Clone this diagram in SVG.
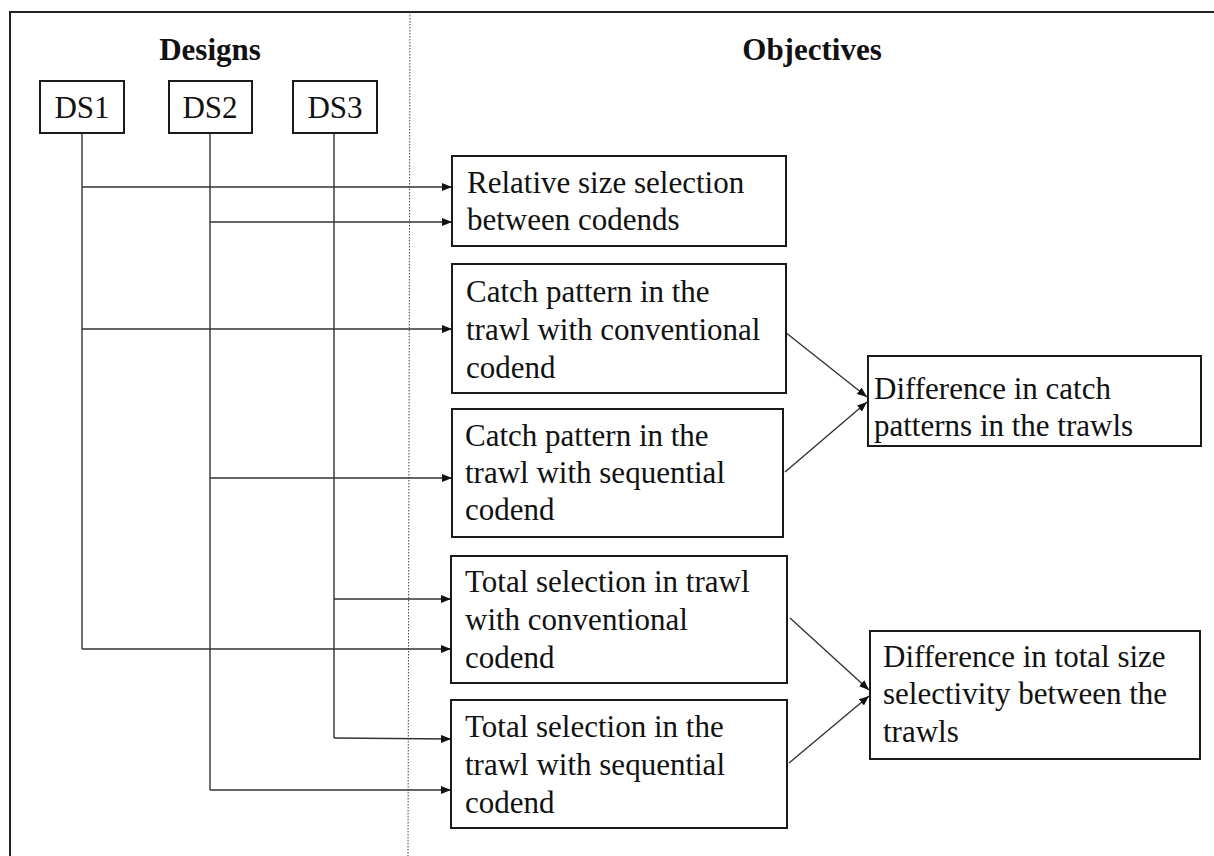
<svg xmlns="http://www.w3.org/2000/svg" width="1214" height="856" viewBox="0 0 1214 856">
<style>
  .box { fill: #ffffff; stroke: #1a1a1a; stroke-width: 2; }
  .t { font-family: "Liberation Serif", "Times New Roman", serif; font-size: 31px; fill: #111111; }
  .h { font-family: "Liberation Serif", "Times New Roman", serif; font-size: 31px; font-weight: bold; fill: #111111; text-anchor: middle; }
  .c { text-anchor: middle; }
  .con { fill: none; stroke: #333333; stroke-width: 1.4; }
  .frame { fill: none; stroke: #222222; stroke-width: 2; }
  .div { stroke: #444444; stroke-width: 1; stroke-dasharray: 1.5 1.5; }
</style>
<defs>
  <marker id="arr" viewBox="0 0 10 8" refX="10" refY="4" markerWidth="10" markerHeight="8" markerUnits="userSpaceOnUse" orient="auto">
    <path d="M0,0 L10,4 L0,8 Z" fill="#111111"/>
  </marker>
</defs>
<rect width="1214" height="856" fill="#ffffff"/>
<g id="frame">
  <path class="frame" d="M10,856 L10,12 L1214,12"/>
  <line class="div" x1="410" y1="12" x2="408" y2="856"/>
</g>
<g id="headers">
  <text class="h" x="210" y="60">Designs</text>
  <text class="h" x="812" y="60">Objectives</text>
</g>
<g id="connectors">
  <path class="con" d="M82,133 L82,649"/>
  <path class="con" d="M210,133 L210,790"/>
  <path class="con" d="M334,133 L334,738"/>
  <path class="con" d="M82,187 L452,187" marker-end="url(#arr)"/>
  <path class="con" d="M210,222 L452,222" marker-end="url(#arr)"/>
  <path class="con" d="M82,329 L452,329" marker-end="url(#arr)"/>
  <path class="con" d="M210,478 L452,478" marker-end="url(#arr)"/>
  <path class="con" d="M334,599 L451,599" marker-end="url(#arr)"/>
  <path class="con" d="M82,649 L451,649" marker-end="url(#arr)"/>
  <path class="con" d="M334,738 L451,739" marker-end="url(#arr)"/>
  <path class="con" d="M210,790 L451,790" marker-end="url(#arr)"/>
  <path class="con" d="M785,332 L867,397" marker-end="url(#arr)"/>
  <path class="con" d="M785,472 L867,402" marker-end="url(#arr)"/>
  <path class="con" d="M790,618 L869,690" marker-end="url(#arr)"/>
  <path class="con" d="M789,763 L869,696" marker-end="url(#arr)"/>
</g>
<g id="ds1">
  <rect class="box" x="40" y="81" width="84" height="52"/>
  <text class="t c" x="82" y="118">DS1</text>
</g>
<g id="ds2">
  <rect class="box" x="169" y="81" width="83" height="52"/>
  <text class="t c" x="210" y="118">DS2</text>
</g>
<g id="ds3">
  <rect class="box" x="293" y="81" width="84" height="52"/>
  <text class="t c" x="335" y="118">DS3</text>
</g>
<g id="relative">
  <rect class="box" x="452" y="156" width="334" height="90"/>
  <text class="t"><tspan x="467" y="193">Relative size selection</tspan><tspan x="467" y="230">between codends</tspan></text>
</g>
<g id="catch-conv">
  <rect class="box" x="452" y="264" width="334" height="129"/>
  <text class="t"><tspan x="466" y="302">Catch pattern in the</tspan><tspan x="466" y="340">trawl with conventional</tspan><tspan x="466" y="378">codend</tspan></text>
</g>
<g id="catch-seq">
  <rect class="box" x="452" y="409" width="331" height="128"/>
  <text class="t"><tspan x="465" y="446">Catch pattern in the</tspan><tspan x="465" y="483">trawl with sequential</tspan><tspan x="465" y="520">codend</tspan></text>
</g>
<g id="diff-catch">
  <rect class="box" x="868" y="356" width="333" height="90"/>
  <text class="t"><tspan x="874" y="399">Difference in catch</tspan><tspan x="874" y="436">patterns in the trawls</tspan></text>
</g>
<g id="total-conv">
  <rect class="box" x="451" y="556" width="336" height="127"/>
  <text class="t"><tspan x="465" y="592">Total selection in trawl</tspan><tspan x="465" y="630">with conventional</tspan><tspan x="465" y="668">codend</tspan></text>
</g>
<g id="total-seq">
  <rect class="box" x="451" y="700" width="336" height="128"/>
  <text class="t"><tspan x="465" y="737">Total selection in the</tspan><tspan x="465" y="775">trawl with sequential</tspan><tspan x="465" y="813">codend</tspan></text>
</g>
<g id="diff-total">
  <rect class="box" x="870" y="631" width="330" height="128"/>
  <text class="t"><tspan x="883" y="667">Difference in total size</tspan><tspan x="883" y="704">selectivity between the</tspan><tspan x="883" y="742">trawls</tspan></text>
</g>
</svg>
